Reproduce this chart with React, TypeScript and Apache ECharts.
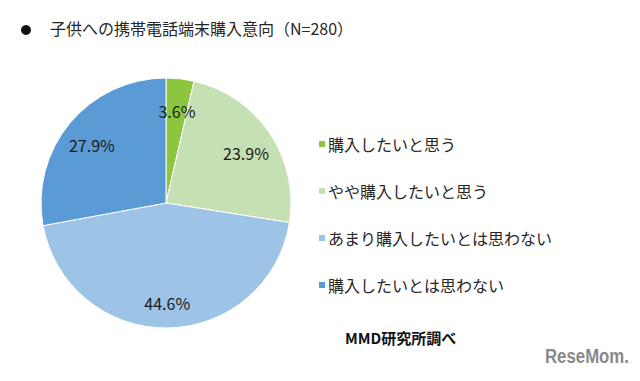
import React, { useEffect, useRef } from "react";
import * as echarts from "echarts";

const titleText = "子供への携帯電話端末購入意向（N=280）";
const categories = [
  "購入したいと思う",
  "やや購入したいと思う",
  "あまり購入したいとは思わない",
  "購入したいとは思わない",
];
const values = [3.6, 23.9, 44.6, 27.9];
const colors = ["#8cc63f", "#c5e0b3", "#9dc3e6", "#5b9bd5"];
const sourceText = "MMD研究所調べ";
const logoText = "ReseMom.";

const FONT = "'Noto Sans CJK JP', 'Noto Sans', sans-serif";

export default function App() {
  const ref = useRef<HTMLDivElement>(null);
  useEffect(() => {
    if (!ref.current) return;
    const chart = echarts.init(ref.current, null, { renderer: "svg" });
    const data = categories.map((name, i) => ({
      name,
      value: values[i],
      itemStyle: { color: colors[i] },
    }));
    chart.setOption({
      animation: false,
      backgroundColor: "#ffffff",
      textStyle: { fontFamily: FONT },
      legend: {
        orient: "vertical",
        left: 312,
        top: 130,
        itemWidth: 8,
        itemHeight: 8,
        itemGap: 29,
        icon: "rect",
        data: categories,
        selectedMode: false,
        textStyle: {
          fontFamily: FONT,
          fontSize: 16,
          color: "#262626",
          lineHeight: 18,
          padding: [0, 0, 0, -3],
        },
      },
      graphic: [
        {
          type: "circle",
          shape: { cx: 26, cy: 30, r: 5 },
          style: { fill: "#111" },
        },
        {
          type: "text",
          left: 50,
          top: 20,
          style: {
            text: titleText,
            font: `16px ${FONT}`,
            fill: "#262626",
          },
        },
        {
          type: "text",
          left: 345,
          top: 330,
          style: {
            text: sourceText,
            font: `bold 15px ${FONT}`,
            fill: "#111",
          },
        },
        {
          type: "text",
          x: 545,
          y: 345,
          scaleX: 0.8,
          style: {
            text: logoText,
            font: `bold 21px 'Liberation Sans', Arial, sans-serif`,
            fill: "#8a8a8a",
          },
        },
      ],
      series: [
        {
          type: "pie",
          center: [166, 203],
          radius: [0, 125],
          startAngle: 90,
          clockwise: true,
          silent: true,
          label: { show: false },
          labelLine: { show: false },
          itemStyle: { borderColor: "#ffffff", borderWidth: 1 },
          data,
        },
        {
          type: "pie",
          center: [166, 207],
          radius: [62, 125],
          startAngle: 90,
          clockwise: true,
          silent: true,
          legendHoverLink: false,
          itemStyle: { color: "rgba(0,0,0,0)" },
          label: {
            show: true,
            position: "inside",
            formatter: (p: any) => `${p.value.toFixed(1)}%`,
            fontFamily: FONT,
            fontSize: 16,
            color: "#1a1a1a",
          },
          labelLine: { show: false },
          data: categories.map((name, i) => ({
            name: name + " ",
            value: values[i],
          })),
        },
      ],
    });
    return () => chart.dispose();
  }, []);
  return (
    <div
      ref={ref}
      style={{ position: "fixed", left: 0, top: 0, width: 640, height: 381 }}
    />
  );
}
